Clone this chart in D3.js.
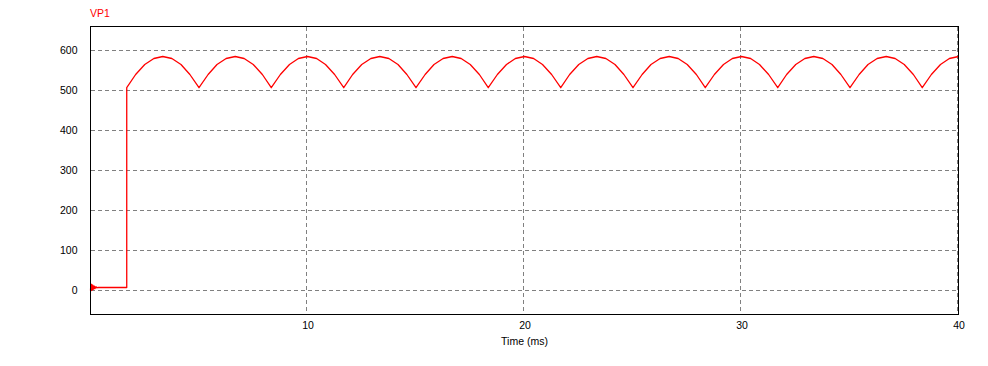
<!DOCTYPE html>
<html>
<head>
<meta charset="utf-8">
<script src="https://cdn.jsdelivr.net/npm/d3@7/dist/d3.min.js"></script>
<style>
  html, body { margin: 0; padding: 0; background: #fff; }
  svg { display: block; }
  text { font-family: "Liberation Sans", Arial, sans-serif; }
</style>
</head>
<body>
<svg id="chart" width="988" height="366"></svg>
<script>
// ---- Data ----
const seriesName = "VP1";
const xLabel = "Time (ms)";
const xTicks = [10, 20, 30, 40];
const yTicks = [0, 100, 200, 300, 400, 500, 600];
const xDomain = [0, 40];
const yDomain = [-60, 660];

// start-up segment (ms, V)
const startTime = [0, 0.015, 0.03, 0.045, 0.06, 0.08, 0.10, 0.12, 0.15, 0.18, 0.21, 0.25, 0.29, 0.33, 1.67];
const startVal  = [0, 16, 0, 15, 1, 14, 2, 12.5, 3.5, 11, 5, 9.5, 6.5, 7.5, 7.5];

// rectified ripple (ms, V)
const waveTime = [
  1.67, 2.08, 2.50, 2.92, 3.33, 3.75, 4.17, 4.58, 5.00, 5.42, 5.83, 6.25, 6.67, 7.08, 7.50, 7.92,
  8.33, 8.75, 9.17, 9.58, 10.00, 10.42, 10.83, 11.25, 11.67, 12.08, 12.50, 12.92, 13.33, 13.75, 14.17, 14.58,
  15.00, 15.42, 15.83, 16.25, 16.67, 17.08, 17.50, 17.92, 18.33, 18.75, 19.17, 19.58, 20.00, 20.42, 20.83, 21.25,
  21.67, 22.08, 22.50, 22.92, 23.33, 23.75, 24.17, 24.58, 25.00, 25.42, 25.83, 26.25, 26.67, 27.08, 27.50, 27.92,
  28.33, 28.75, 29.17, 29.58, 30.00, 30.42, 30.83, 31.25, 31.67, 32.08, 32.50, 32.92, 33.33, 33.75, 34.17, 34.58,
  35.00, 35.42, 35.83, 36.25, 36.67, 37.08, 37.50, 37.92, 38.33, 38.75, 39.17, 39.58, 40.00
];
const waveVal = [
  507, 540, 565, 580, 585, 580, 565, 540, 507, 540, 565, 580, 585, 580, 565, 540,
  507, 540, 565, 580, 585, 580, 565, 540, 507, 540, 565, 580, 585, 580, 565, 540,
  507, 540, 565, 580, 585, 580, 565, 540, 507, 540, 565, 580, 585, 580, 565, 540,
  507, 540, 565, 580, 585, 580, 565, 540, 507, 540, 565, 580, 585, 580, 565, 540,
  507, 540, 565, 580, 585, 580, 565, 540, 507, 540, 565, 580, 585, 580, 565, 540,
  507, 540, 565, 580, 585, 580, 565, 540, 507, 540, 565, 580, 585, 580, 565, 540,
  507, 540, 565, 580, 585, 580, 565, 540, 507, 540, 565, 580, 585
];

// ---- Build points ----
const points = startTime.map((t, i) => ({ t, v: startVal[i] }))
  .concat(waveTime.map((t, i) => ({ t, v: waveVal[i] })));

// ---- Layout ----
const pL = 90.5, pR = 958.5, pT = 26.5, pB = 314.5;
const svg = d3.select("#chart");

const x = d3.scaleLinear().domain(xDomain).range([pL, pR]);
const y = d3.scaleLinear().domain(yDomain).range([pB, pT]);

// grid
const grid = svg.append("g").attr("class", "grid");
grid.selectAll("line.h").data(yTicks).join("line")
  .attr("x1", pL).attr("x2", pR)
  .attr("y1", d => y(d)).attr("y2", d => y(d))
  .attr("stroke", "#808080").attr("stroke-width", 1)
  .attr("stroke-dasharray", "4,3").attr("shape-rendering", "crispEdges");
grid.selectAll("line.v").data(xTicks).join("line")
  .attr("x1", d => x(d) - 1).attr("x2", d => x(d) - 1)
  .attr("y1", pT).attr("y2", pB)
  .attr("stroke", "#808080").attr("stroke-width", 1)
  .attr("stroke-dasharray", "4,3").attr("shape-rendering", "crispEdges");

// axes (labels only)
const yAxis = d3.axisLeft(y).tickValues(yTicks).tickSize(0).tickPadding(13).tickFormat(d3.format("d"));
const gy = svg.append("g").attr("transform", `translate(${pL},0)`).call(yAxis);
gy.select(".domain").remove();
gy.selectAll("text").attr("font-size", "10.5px").attr("fill", "#000")
  .attr("font-family", '"Liberation Sans", Arial, sans-serif');

const xAxis = d3.axisBottom(x).tickValues(xTicks).tickSize(0).tickPadding(7.5).tickFormat(d3.format("d"));
const gx = svg.append("g").attr("transform", `translate(0,${pB})`).call(xAxis);
gx.select(".domain").remove();
gx.selectAll("text").attr("font-size", "10.5px").attr("fill", "#000")
  .attr("font-family", '"Liberation Sans", Arial, sans-serif');

// series line
const line = d3.line().x(d => x(d.t)).y(d => y(d.v)).curve(d3.curveLinear);
svg.append("path").datum(points)
  .attr("d", line)
  .attr("fill", "none")
  .attr("stroke", "#ff0000")
  .attr("stroke-width", 1.3)
  .attr("stroke-linejoin", "round");

// frame
svg.append("rect")
  .attr("x", pL).attr("y", pT)
  .attr("width", pR - pL).attr("height", pB - pT)
  .attr("fill", "none").attr("stroke", "#000").attr("stroke-width", 1)
  .attr("shape-rendering", "crispEdges");

// series label
svg.append("text")
  .attr("x", 90).attr("y", 17)
  .attr("font-size", "10.5px").attr("fill", "#ff0000")
  .text(seriesName);

// x axis title
svg.append("text")
  .attr("x", (pL + pR) / 2).attr("y", 345)
  .attr("text-anchor", "middle")
  .attr("font-size", "10.5px").attr("fill", "#000")
  .text(xLabel);
</script>
</body>
</html>
